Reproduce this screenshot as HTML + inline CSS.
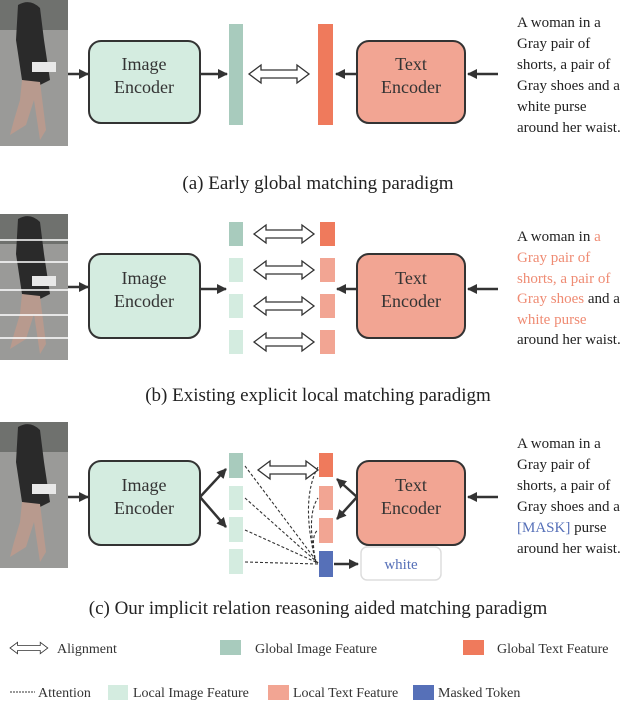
<!DOCTYPE html>
<html><head><style>
body{margin:0;background:#fff;}
svg{display:block;font-family:"Liberation Serif",serif;}
</style></head><body>
<svg width="636" height="702" viewBox="0 0 636 702" xmlns="http://www.w3.org/2000/svg">
<defs>
<marker id="ah" viewBox="0 0 10 10" refX="9" refY="5" markerWidth="4" markerHeight="4" orient="auto"><path d="M0,0L10,5L0,10z" fill="#333"/></marker>
<g id="photo">
<rect x="0" y="0" width="68" height="146" fill="#9a9a98"/>
<rect x="0" y="0" width="68" height="30" fill="#6f716e"/>
<path d="M18,5 Q30,-2 40,8 L44,40 L50,80 L40,85 L22,80 L16,40z" fill="#2a2a2a"/>
<rect x="32" y="62" width="24" height="10" fill="#e8e8e8"/>
<path d="M22,80 L40,82 L46,130 L40,140 L34,100 L26,125 L10,135 L14,120 L20,100z" fill="#b89a8e"/>
</g>
<g id="dbl"><path d="M0,0 l12,-9 v5 h36 v-5 l12,9 l-12,9 v-5 h-36 v5z" fill="#fff" stroke="#333" stroke-width="1.3"/></g>
</defs>

<!-- (a) -->
<use href="#photo" x="0" y="0"/>
<line x1="68" y1="74" x2="88" y2="74" stroke="#333" stroke-width="2.5" marker-end="url(#ah)"/>
<rect x="89" y="41" width="111" height="82" rx="12" fill="#d4ece0" stroke="#333" stroke-width="2"/>
<text x="144" y="70" font-size="18" text-anchor="middle" fill="#333">Image</text>
<text x="144" y="93" font-size="18" text-anchor="middle" fill="#333">Encoder</text>
<line x1="200" y1="74" x2="227" y2="74" stroke="#333" stroke-width="2.5" marker-end="url(#ah)"/>
<rect x="229" y="24" width="14" height="101" fill="#a8cbbd"/>
<use href="#dbl" x="249" y="74"/>
<rect x="318" y="24" width="15" height="101" fill="#ef7a5c"/>
<line x1="357" y1="74" x2="336" y2="74" stroke="#333" stroke-width="2.5" marker-end="url(#ah)"/>
<rect x="357" y="41" width="108" height="82" rx="12" fill="#f2a593" stroke="#333" stroke-width="2"/>
<text x="411" y="70" font-size="18" text-anchor="middle" fill="#333">Text</text>
<text x="411" y="93" font-size="18" text-anchor="middle" fill="#333">Encoder</text>
<line x1="498" y1="74" x2="468" y2="74" stroke="#333" stroke-width="2.5" marker-end="url(#ah)"/>
<g font-size="15" fill="#222">
<text x="517" y="27">A woman in a</text><text x="517" y="48">Gray pair of</text><text x="517" y="69">shorts, a pair of</text><text x="517" y="90">Gray shoes and a</text><text x="517" y="111">white purse</text><text x="517" y="132">around her waist.</text>
</g>
<text x="318" y="189" font-size="19" text-anchor="middle" fill="#222">(a) Early global matching paradigm</text>

<!-- (b) -->
<use href="#photo" x="0" y="214"/>
<g stroke="#fff" stroke-width="1.5"><line x1="0" y1="240" x2="68" y2="240"/><line x1="0" y1="262" x2="68" y2="262"/><line x1="0" y1="290" x2="68" y2="290"/><line x1="0" y1="315" x2="68" y2="315"/><line x1="0" y1="338" x2="68" y2="338"/></g>
<line x1="68" y1="287" x2="88" y2="287" stroke="#333" stroke-width="2.5" marker-end="url(#ah)"/>
<rect x="89" y="254" width="111" height="84" rx="12" fill="#d4ece0" stroke="#333" stroke-width="2"/>
<text x="144" y="284" font-size="18" text-anchor="middle" fill="#333">Image</text>
<text x="144" y="307" font-size="18" text-anchor="middle" fill="#333">Encoder</text>
<line x1="200" y1="289" x2="226" y2="289" stroke="#333" stroke-width="2.5" marker-end="url(#ah)"/>
<rect x="229" y="222" width="14" height="24" fill="#a8cbbd"/>
<rect x="229" y="258" width="14" height="24" fill="#d4ece0"/>
<rect x="229" y="294" width="14" height="24" fill="#d4ece0"/>
<rect x="229" y="330" width="14" height="24" fill="#d4ece0"/>
<use href="#dbl" x="254" y="234"/><use href="#dbl" x="254" y="270"/><use href="#dbl" x="254" y="306"/><use href="#dbl" x="254" y="342"/>
<rect x="320" y="222" width="15" height="24" fill="#ef7a5c"/>
<rect x="320" y="258" width="15" height="24" fill="#f2a593"/>
<rect x="320" y="294" width="15" height="24" fill="#f2a593"/>
<rect x="320" y="330" width="15" height="24" fill="#f2a593"/>
<line x1="357" y1="289" x2="337" y2="289" stroke="#333" stroke-width="2.5" marker-end="url(#ah)"/>
<rect x="357" y="254" width="108" height="84" rx="12" fill="#f2a593" stroke="#333" stroke-width="2"/>
<text x="411" y="284" font-size="18" text-anchor="middle" fill="#333">Text</text>
<text x="411" y="307" font-size="18" text-anchor="middle" fill="#333">Encoder</text>
<line x1="498" y1="289" x2="468" y2="289" stroke="#333" stroke-width="2.5" marker-end="url(#ah)"/>
<g font-size="15" fill="#222">
<text x="517" y="241">A woman in <tspan fill="#ef8b73">a</tspan></text>
<text x="517" y="262" fill="#ef8b73">Gray pair of</text>
<text x="517" y="283" fill="#ef8b73">shorts, a pair of</text>
<text x="517" y="303"><tspan fill="#ef8b73">Gray shoes</tspan> and a</text>
<text x="517" y="324" fill="#ef8b73">white purse</text>
<text x="517" y="344">around her waist.</text>
</g>
<text x="318" y="401" font-size="19" text-anchor="middle" fill="#222">(b) Existing explicit local matching paradigm</text>

<!-- (c) -->
<use href="#photo" x="0" y="422"/>
<line x1="68" y1="497" x2="88" y2="497" stroke="#333" stroke-width="2.5" marker-end="url(#ah)"/>
<rect x="89" y="461" width="111" height="84" rx="12" fill="#d4ece0" stroke="#333" stroke-width="2"/>
<text x="144" y="491" font-size="18" text-anchor="middle" fill="#333">Image</text>
<text x="144" y="514" font-size="18" text-anchor="middle" fill="#333">Encoder</text>
<line x1="200" y1="497" x2="226" y2="469" stroke="#333" stroke-width="2.5" marker-end="url(#ah)"/>
<line x1="200" y1="497" x2="226" y2="527" stroke="#333" stroke-width="2.5" marker-end="url(#ah)"/>
<rect x="229" y="453" width="14" height="25" fill="#a8cbbd"/>
<rect x="229" y="486" width="14" height="24" fill="#d4ece0"/>
<rect x="229" y="517" width="14" height="25" fill="#d4ece0"/>
<rect x="229" y="549" width="14" height="25" fill="#d4ece0"/>
<use href="#dbl" x="258" y="470"/>
<g stroke="#333" stroke-width="1.1" stroke-dasharray="3,2" fill="none">
<line x1="245" y1="466" x2="318" y2="563"/>
<line x1="245" y1="498" x2="318" y2="563"/>
<line x1="245" y1="530" x2="318" y2="563"/>
<line x1="245" y1="562" x2="318" y2="564"/>
<path d="M316,563 Q300,500 318,467"/>
<path d="M316,563 Q306,515 318,498"/>
<path d="M316,563 Q310,535 318,530"/>
</g>
<rect x="319" y="453" width="14" height="24" fill="#ef7a5c"/>
<rect x="319" y="486" width="14" height="24" fill="#f2a593"/>
<rect x="319" y="518" width="14" height="25" fill="#f2a593"/>
<rect x="319" y="551" width="14" height="26" fill="#5670b8"/>
<line x1="357" y1="497" x2="337" y2="479" stroke="#333" stroke-width="2.5" marker-end="url(#ah)"/>
<line x1="357" y1="497" x2="337" y2="519" stroke="#333" stroke-width="2.5" marker-end="url(#ah)"/>
<line x1="334" y1="564" x2="358" y2="564" stroke="#333" stroke-width="2.5" marker-end="url(#ah)"/>
<rect x="357" y="461" width="108" height="84" rx="12" fill="#f2a593" stroke="#333" stroke-width="2"/>
<text x="411" y="491" font-size="18" text-anchor="middle" fill="#333">Text</text>
<text x="411" y="514" font-size="18" text-anchor="middle" fill="#333">Encoder</text>
<line x1="498" y1="497" x2="468" y2="497" stroke="#333" stroke-width="2.5" marker-end="url(#ah)"/>
<rect x="361" y="547" width="80" height="33" rx="6" fill="#fff" stroke="#ddd" stroke-width="1.5"/>
<text x="401" y="569" font-size="15" text-anchor="middle" fill="#5670b8">white</text>
<g font-size="15" fill="#222">
<text x="517" y="448">A woman in a</text><text x="517" y="469">Gray pair of</text><text x="517" y="490">shorts, a pair of</text><text x="517" y="511">Gray shoes and a</text><text x="517" y="532"><tspan fill="#5670b8">[MASK]</tspan> purse</text><text x="517" y="553">around her waist.</text>
</g>
<text x="318" y="614" font-size="19" text-anchor="middle" fill="#222">(c) Our implicit relation reasoning aided matching paradigm</text>

<!-- legend -->
<g transform="translate(10,648) scale(0.63)"><use href="#dbl" x="0" y="0"/></g>
<g font-size="14" fill="#333">
<text x="57" y="653">Alignment</text>
<rect x="220" y="640" width="21" height="15" fill="#a8cbbd"/>
<text x="255" y="653">Global Image Feature</text>
<rect x="463" y="640" width="21" height="15" fill="#ef7a5c"/>
<text x="497" y="653">Global Text Feature</text>
<line x1="10" y1="692" x2="35" y2="692" stroke="#333" stroke-width="1" stroke-dasharray="2,1"/>
<text x="38" y="697">Attention</text>
<rect x="108" y="685" width="20" height="15" fill="#d4ece0"/>
<text x="133" y="697">Local Image Feature</text>
<rect x="268" y="685" width="21" height="15" fill="#f2a593"/>
<text x="293" y="697">Local Text Feature</text>
<rect x="413" y="685" width="21" height="15" fill="#5670b8"/>
<text x="438" y="697">Masked Token</text>
</g>
</svg>
</body></html>
